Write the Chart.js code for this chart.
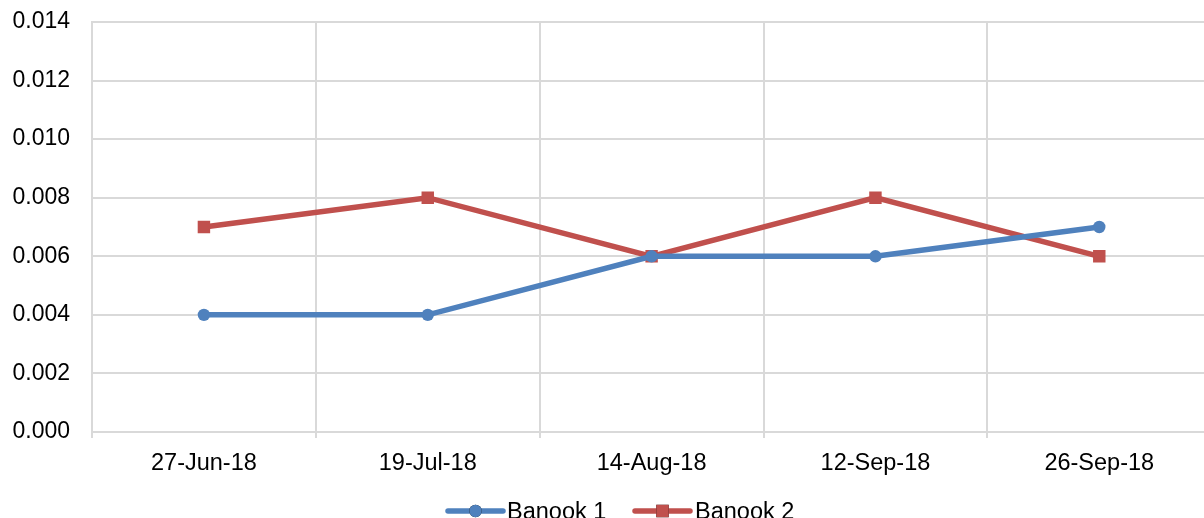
<!DOCTYPE html>
<html>
<head>
<meta charset="utf-8">
<script src="https://cdn.jsdelivr.net/npm/chart.js@4/dist/chart.umd.min.js"></script>
<style>
  html, body { margin: 0; padding: 0; background: #fff; overflow: hidden; }
  /* wider than the window: the plot runs off the right edge like the original */
  #wrap { width: 1220px; height: 518px; position: relative; }
</style>
</head>
<body>
<div id="wrap"><canvas id="chart"></canvas></div>
<script>
// ── Data ────────────────────────────────────────────────
const dates   = ['27-Jun-18', '19-Jul-18', '14-Aug-18', '12-Sep-18', '26-Sep-18'];
const banook1 = [0.004, 0.004, 0.006, 0.006, 0.007];
const banook2 = [0.007, 0.008, 0.006, 0.008, 0.006];
const yTicks  = [0, 0.002, 0.004, 0.006, 0.008, 0.010, 0.012, 0.014];

const FONT = { family: "'Liberation Sans', Arial, sans-serif", size: 23 };
const XFONT = { family: "'Liberation Sans', Arial, sans-serif", size: 23.5 };
const GRID = '#d9d9d9';

// bottom legend, drawn by hand so it can sit low like the original
const bottomLegend = {
  id: 'bottomLegend',
  afterDraw(chart) {
    const ctx = chart.ctx;
    const y = 511;
    const items = [
      { x0: 448, x1: 503, tx: 507, ds: chart.data.datasets[0] },
      { x0: 635, x1: 690, tx: 695, ds: chart.data.datasets[1] },
    ];
    ctx.save();
    items.forEach(it => {
      ctx.strokeStyle = it.ds.borderColor;
      ctx.lineWidth = it.ds.borderWidth;
      ctx.lineCap = 'round';
      ctx.beginPath();
      ctx.moveTo(it.x0, y);
      ctx.lineTo(it.x1, y);
      ctx.stroke();
      Chart.helpers.drawPoint(ctx, {
        pointStyle: it.ds.pointStyle,
        radius: it.ds.pointRadius,
        borderWidth: 0,
      }, (it.x0 + it.x1) / 2, y);
      ctx.fillStyle = it.ds.borderColor;
      ctx.fill();
      ctx.fillStyle = '#000';
      ctx.font = `${XFONT.size}px ${XFONT.family}`;
      ctx.textBaseline = 'alphabetic';
      ctx.textAlign = 'left';
      ctx.fillText(it.ds.label, it.tx, 519);
    });
    ctx.restore();
  },
};

new Chart(document.getElementById('chart'), {
  type: 'line',
  data: {
    labels: dates,
    datasets: [
      {
        label: 'Banook 1',
        data: banook1,
        borderColor: '#4f81bd',
        backgroundColor: '#4f81bd',
        borderWidth: 5.5,
        pointStyle: 'circle',
        pointRadius: 6.2,
        pointBorderWidth: 0,
        tension: 0,
      },
      {
        label: 'Banook 2',
        data: banook2,
        borderColor: '#c0504d',
        backgroundColor: '#c0504d',
        borderWidth: 5.5,
        pointStyle: 'rect',
        pointRadius: 8.8,
        pointBorderWidth: 0,
        tension: 0,
      },
    ],
  },
  options: {
    responsive: true,
    maintainAspectRatio: false,
    animation: false,
    layout: { padding: { top: 22, right: 0, bottom: 0, left: 0 } },
    plugins: {
      legend: { display: false },
      tooltip: { enabled: false },
    },
    scales: {
      x: {
        offset: true,
        grid: { color: GRID, lineWidth: 2, offset: true, tickLength: 6, drawTicks: true },
        border: { color: GRID, width: 2 },
        ticks: { color: '#000', font: XFONT, padding: 11, maxRotation: 0 },
        afterFit(scale) {
          scale.height = 86;
          scale.paddingLeft = 0;
          scale.paddingRight = 0;
        },
      },
      y: {
        min: 0,
        max: 0.014,
        afterBuildTicks(scale) { scale.ticks = yTicks.map(v => ({ value: v })); },
        grid: { color: GRID, lineWidth: 2, drawTicks: false },
        border: { color: GRID, width: 2 },
        ticks: {
          color: '#000',
          font: FONT,
          padding: 22,
          callback: v => v.toFixed(3),
        },
        afterFit(scale) {
          scale.width = 92;
          scale.paddingTop = 0;
          scale.paddingBottom = 0;
        },
      },
    },
  },
  plugins: [bottomLegend],
});
</script>
</body>
</html>
